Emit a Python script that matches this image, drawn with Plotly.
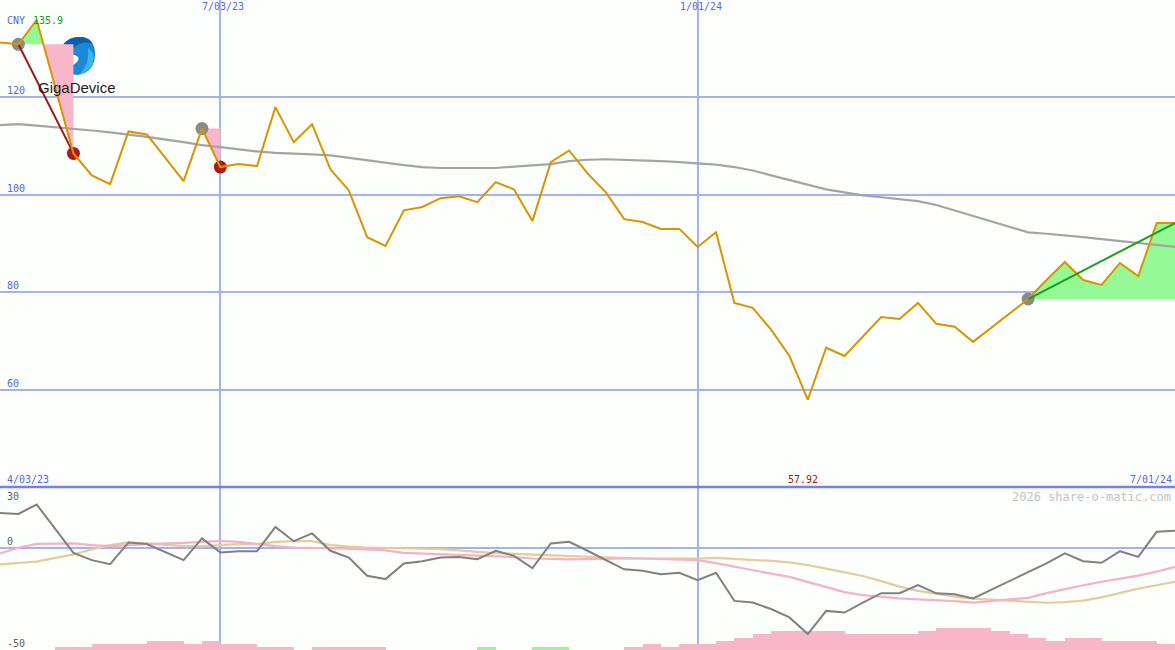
import plotly.graph_objects as go
import pandas as pd

# ---------------- data ----------------
DATES = [
    "2023-04-10", "2023-04-17", "2023-04-24", "2023-05-08", "2023-05-15", "2023-05-22",
    "2023-05-29", "2023-06-05", "2023-06-19", "2023-06-26", "2023-07-03", "2023-07-10",
    "2023-07-17", "2023-07-24", "2023-07-31", "2023-08-07", "2023-08-14", "2023-08-21",
    "2023-08-28", "2023-09-04", "2023-09-11", "2023-09-18", "2023-09-25", "2023-10-02",
    "2023-10-09", "2023-10-16", "2023-10-23", "2023-10-30", "2023-11-06", "2023-11-13",
    "2023-11-20", "2023-11-27", "2023-12-04", "2023-12-11", "2023-12-18", "2023-12-25",
    "2024-01-01", "2024-01-08", "2024-01-15", "2024-01-22", "2024-01-29", "2024-02-05",
    "2024-02-12", "2024-02-19", "2024-02-26", "2024-03-04", "2024-03-11", "2024-03-18",
    "2024-03-25", "2024-04-01", "2024-04-08", "2024-04-15", "2024-05-06", "2024-05-13",
    "2024-05-20", "2024-05-27", "2024-06-03", "2024-06-10", "2024-06-17", "2024-06-24",
    "2024-07-01",
]
PRICE = [
    131.3, 130.9, 135.9, 108.5, 104.0, 102.2, 113.0, 112.4, 102.8, 113.6, 105.7, 106.3,
    105.9, 118.0, 110.8, 114.5, 105.2, 100.9, 91.3, 89.5, 96.8, 97.5, 99.3, 99.7,
    98.5, 102.6, 101.1, 94.6, 106.7, 109.1, 104.4, 100.5, 95.0, 94.4, 93.0, 93.0,
    89.3, 92.3, 77.8, 76.8, 72.3, 66.9, 57.92, 68.6, 66.9, 71.0, 74.9, 74.5,
    77.8, 73.5, 72.9, 69.8, 78.6, 82.5, 86.2, 82.5, 81.5, 86.0, 83.3, 94.2,
    94.2,
]
MA_LONG = [
    114.3, 114.5, 114.2, 113.6, 113.2, 112.8, 112.4, 111.9, 110.8, 110.2, 109.8, 109.3,
    108.9, 108.6, 108.5, 108.3, 108.1, 107.6, 107.1, 106.5, 106.1, 105.7, 105.5, 105.5,
    105.5, 105.5, 105.8, 106.1, 106.3, 106.9, 107.2, 107.3, 107.2, 107.1, 106.9, 106.7,
    106.5, 106.2, 105.7, 105.0, 104.0, 103.0, 102.0, 101.1, 100.5, 99.9, 99.5, 99.1,
    98.7, 97.9, 96.8, 95.6, 92.3, 92.0, 91.7, 91.3, 90.9, 90.5, 90.1, 89.7,
    89.3,
]
OSC_GRAY = [
    17.3, 16.8, 21.4, -2.3, -5.9, -7.9, 2.8, 2.0, -5.9, 4.8, -2.1, -1.5,
    -1.5, 10.4, 3.4, 7.2, -1.3, -4.6, -13.6, -15.2, -7.5, -6.4, -4.6, -4.3,
    -5.4, -1.3, -3.8, -9.8, 2.3, 3.1, -1.3, -5.9, -10.4, -11.1, -12.8, -12.1,
    -15.7, -12.1, -25.9, -26.7, -29.9, -34.0, -42.2, -30.8, -31.6, -26.7, -22.1, -22.1,
    -18.1, -22.2, -22.6, -24.7, -11.9, -7.5, -2.6, -6.4, -7.2, -1.5, -4.3, 8.0,
    8.5,
]
OSC_PINK = [
    -2.6, 0.2, 2.1, 2.3, 1.5, 1.0, 1.5, 2.0, 2.6, 3.1, 3.6, 3.1,
    2.0, 1.0, 0.3, 0.2, 0.1, -0.2, -0.6, -1.1, -2.3, -2.6, -2.9, -3.3,
    -3.6, -3.9, -4.4, -5.1, -5.4, -5.5, -5.4, -5.1, -5.1, -5.1, -5.3, -5.6,
    -5.9, -7.4, -9.2, -10.8, -12.5, -14.1, -16.7, -19.1, -21.6, -23.1, -24.0, -24.7,
    -25.2, -25.5, -26.0, -26.7, -24.4, -22.1, -20.1, -18.2, -16.5, -15.1, -13.5, -11.5,
    -9.2,
]
OSC_TAN = [
    -8.0, -7.4, -6.6, -3.1, -0.6, 1.5, 2.8, 2.3, 1.0, 1.0, 1.5, 2.0,
    2.0, 3.1, 3.4, 3.4, 1.5, 0.7, 0.3, 0.2, 0.1, -0.3, -0.5, -1.2,
    -1.8, -2.5, -2.8, -3.2, -3.4, -3.9, -4.4, -4.7, -4.9, -5.1, -5.2, -5.3,
    -5.2, -4.8, -5.2, -5.6, -6.3, -7.0, -8.3, -10.1, -12.0, -13.7, -16.2, -18.9,
    -21.0, -22.4, -23.8, -24.8, -26.3, -26.8, -26.5, -25.8, -24.2, -22.1, -19.9, -18.2,
    -16.5,
]
BAR_PINK_DATES = [
    "2023-05-01", "2023-05-08", "2023-05-15", "2023-05-22", "2023-05-29", "2023-06-05",
    "2023-06-12", "2023-06-19", "2023-06-26", "2023-07-03", "2023-07-10", "2023-07-17",
    "2023-07-24", "2023-08-07", "2023-08-14", "2023-08-21", "2023-08-28", "2023-12-04",
    "2023-12-11", "2023-12-18", "2023-12-25", "2024-01-01", "2024-01-08", "2024-01-15",
    "2024-01-22", "2024-01-29", "2024-02-05", "2024-02-12", "2024-02-19", "2024-02-26",
    "2024-03-04", "2024-03-11", "2024-03-18", "2024-03-25", "2024-04-01", "2024-04-08",
    "2024-04-15", "2024-04-22", "2024-04-29", "2024-05-06", "2024-05-13", "2024-05-20",
    "2024-05-27", "2024-06-03", "2024-06-10", "2024-06-17", "2024-06-24",
]
BAR_PINK = [
    1.5, 1.5, 3.0, 3.0, 3.0, 4.6, 4.6, 3.0, 4.6, 3.0, 3.0, 1.5,
    1.5, 1.5, 1.5, 1.5, 1.5, 1.5, 3.0, 1.5, 3.0, 3.0, 4.6, 6.0,
    7.7, 9.3, 9.3, 9.3, 9.3, 7.7, 7.7, 7.7, 7.7, 9.3, 10.9, 10.9,
    10.9, 9.3, 7.7, 6.0, 4.6, 6.0, 6.0, 4.6, 4.6, 4.6, 3.0,
]
BAR_GREEN_DATES = ["2023-10-09", "2023-10-30", "2023-11-06"]
BAR_GREEN = [1.5, 1.5, 1.5]

MAIN_TICKS = [120, 100, 80, 60]
LOWER_TICKS = [30, 0, -50]
X_TICKS = ["2023-07-03", "2024-01-01"]
X_TICK_LABELS = ["7/03/23", "1/01/24"]
X_RANGE = ["2023-04-10", "2024-07-01"]
EVENTS = [("2023-04-17", "2023-05-08"), ("2023-06-26", "2023-07-03"), ("2024-05-06", "2024-07-01")]

# ---------------- style ----------------
W, H = 1175, 650
SPLIT = 1 - 487 / 650
BG = "#fcfffc"
GRID = "#a4b2f2"
ORANGE = "#d99400"
PINKF = "#f9b6c9"
GREENF = "#94f894"
MONO = "DejaVu Sans Mono"


def px(x):
    return x / W


def py(y):
    return 1 - y / H


fig = go.Figure()

# event fills
def event_polys(d0, d1):
    i0, i1 = DATES.index(d0), DATES.index(d1)
    lvl = PRICE[i0]
    ts = [pd.Timestamp(d) for d in DATES[i0:i1 + 1]]
    ps = PRICE[i0:i1 + 1]
    pts = [(ts[0], ps[0])]
    for j in range(1, len(ts)):
        t1, p1, t2, p2 = ts[j - 1], ps[j - 1], ts[j], ps[j]
        if (p1 - lvl) * (p2 - lvl) < 0:
            f = (lvl - p1) / (p2 - p1)
            pts.append((t1 + (t2 - t1) * f, lvl))
        pts.append((t2, p2))
    xs = [t for t, _ in pts] + [ts[-1], ts[0]]
    up = [max(p, lvl) for _, p in pts] + [lvl, lvl]
    dn = [min(p, lvl) for _, p in pts] + [lvl, lvl]
    return xs, up, dn, i0, i1


for d0, d1 in EVENTS:
    xs, up, dn, i0, i1 = event_polys(d0, d1)
    fig.add_trace(go.Scatter(x=xs, y=up, fill="toself", fillcolor=GREENF, mode="none",
                             hoverinfo="skip"))
    fig.add_trace(go.Scatter(x=xs, y=dn, fill="toself", fillcolor=PINKF, mode="none",
                             hoverinfo="skip"))

# long moving average
fig.add_trace(go.Scatter(x=DATES, y=MA_LONG, mode="lines",
                         line=dict(color="#a4a4a4", width=2.2)))

# event markers & lines (below price)
for d0, d1 in EVENTS:
    i0, i1 = DATES.index(d0), DATES.index(d1)
    fig.add_trace(go.Scatter(x=[DATES[i0]], y=[PRICE[i0]], mode="markers",
                             marker=dict(color="#8a8a8a", size=13)))
    if PRICE[i1] < PRICE[i0]:
        if i1 - i0 > 1:
            fig.add_trace(go.Scatter(x=[DATES[i0], DATES[i1]], y=[PRICE[i0], PRICE[i1]],
                                     mode="lines", line=dict(color="#a01818", width=2)))
        fig.add_trace(go.Scatter(x=[DATES[i1]], y=[PRICE[i1]], mode="markers",
                                 marker=dict(color="#a81c1c", size=13)))

# price
fig.add_trace(go.Scatter(x=DATES, y=PRICE, mode="lines",
                         line=dict(color=ORANGE, width=2)))

for d0, d1 in EVENTS:
    i0, i1 = DATES.index(d0), DATES.index(d1)
    if PRICE[i1] >= PRICE[i0]:
        fig.add_trace(go.Scatter(x=[DATES[i0], DATES[i1]], y=[PRICE[i0], PRICE[i1]],
                                 mode="lines", line=dict(color="#1e9e1e", width=2)))

# lower panel
WEEK_MS = 7 * 86400000
fig.add_trace(go.Bar(x=BAR_PINK_DATES, y=BAR_PINK, base=-50, offset=0, width=WEEK_MS,
                     marker=dict(color=PINKF, line=dict(width=0)), yaxis="y2"))
fig.add_trace(go.Bar(x=BAR_GREEN_DATES, y=BAR_GREEN, base=-50, offset=0, width=WEEK_MS,
                     marker=dict(color=GREENF, line=dict(width=0)), yaxis="y2"))
fig.add_trace(go.Scatter(x=DATES, y=OSC_TAN, mode="lines", yaxis="y2",
                         line=dict(color="#e4cc9c", width=2.2)))
fig.add_trace(go.Scatter(x=DATES, y=OSC_PINK, mode="lines", yaxis="y2",
                         line=dict(color="#f8b0c6", width=2.2)))
fig.add_trace(go.Scatter(x=DATES, y=OSC_GRAY, mode="lines", yaxis="y2",
                         line=dict(color="#808080", width=2)))

# ---------------- annotations ----------------
ann = []
for v in MAIN_TICKS:
    ann.append(dict(x=px(5), xref="paper", y=v, yref="y", text=str(v), showarrow=False,
                    xanchor="left", yanchor="bottom", yshift=-1,
                    font=dict(family=MONO, size=10, color="#5566ee")))
for v in LOWER_TICKS:
    if v == LOWER_TICKS[0]:
        ann.append(dict(x=px(5), xref="paper", y=v, yref="y2", text=str(v), showarrow=False,
                        xanchor="left", yanchor="top", yshift=-2,
                        font=dict(family=MONO, size=10, color="#606060")))
    else:
        ann.append(dict(x=px(5), xref="paper", y=v, yref="y2", text=str(v), showarrow=False,
                        xanchor="left", yanchor="bottom", yshift=-1,
                        font=dict(family=MONO, size=10, color="#606060")))
for d, lab in zip(X_TICKS, X_TICK_LABELS):
    ann.append(dict(x=d, xref="x", y=1, yref="paper", text=lab, showarrow=False,
                    xanchor="center", yanchor="top", xshift=3, yshift=1,
                    font=dict(family=MONO, size=10, color="#5566ee")))
ann.append(dict(x=X_RANGE[0], xref="x", y=SPLIT, yref="paper", text="4/03/23", showarrow=False,
                xanchor="left", yanchor="bottom", xshift=5, yshift=0,
                font=dict(family=MONO, size=10, color="#5566ee")))
ann.append(dict(x=X_RANGE[1], xref="x", y=SPLIT, yref="paper", text="7/01/24", showarrow=False,
                xanchor="right", yanchor="bottom", xshift=-1, yshift=0,
                font=dict(family=MONO, size=10, color="#5566ee")))
imin = PRICE.index(min(PRICE))
ann.append(dict(x=DATES[imin], xref="x", y=SPLIT, yref="paper", text=f"{PRICE[imin]:.2f}",
                showarrow=False, xanchor="center", yanchor="bottom", xshift=-5,
                font=dict(family=MONO, size=10, color="#a01818")))
ann.append(dict(x=px(5), xref="paper", y=1, yref="paper", text="CNY", showarrow=False,
                xanchor="left", yanchor="top", yshift=-13,
                font=dict(family=MONO, size=10, color="#5566ee")))
ann.append(dict(x=px(31), xref="paper", y=1, yref="paper", text=f"{max(PRICE):.1f}",
                showarrow=False, xanchor="left", yanchor="top", yshift=-13,
                font=dict(family=MONO, size=10, color="#1a9a1a")))
ann.append(dict(x=px(1173), xref="paper", y=SPLIT, yref="paper", text="2026 share-o-matic.com",
                showarrow=False, xanchor="right", yanchor="top", yshift=-1,
                font=dict(family=MONO, size=12, color="#c4c4c4")))
ann.append(dict(x=px(36), xref="paper", y=py(87), yref="paper", text="GigaDevice",
                showarrow=False, xanchor="left", yanchor="middle",
                font=dict(family="Liberation Sans", size=15, color="#1c1c1c")))

# ---------------- shapes ----------------
def path_px(cmds):
    out = []
    for c in cmds:
        if isinstance(c, str):
            out.append(c)
        else:
            out.append(f"{px(c[0]):.5f},{py(c[1]):.5f}")
    return " ".join(out)


shapes = [
    dict(type="rect", xref="paper", yref="paper", x0=px(35), x1=px(116), y0=py(99), y1=py(32),
         fillcolor="#ffffff", line=dict(width=0), layer="between"),
    # outer blue drop
    dict(type="path", xref="paper", yref="paper", layer="between",
         path=path_px(["M", (60, 50), "Q", (66, 36), (82, 37), "Q", (96, 40), (95, 56),
                       "Q", (94, 72), (78, 75), "Q", (66, 75), (61, 66),
                       "Q", (70, 68), (76, 63), "Q", (82, 57), (74, 55),
                       "Q", (66, 55), (60, 50), "Z"]),
         fillcolor="#1c88d8", line=dict(width=0)),
    # darker top cap
    dict(type="path", xref="paper", yref="paper", layer="between",
         path=path_px(["M", (60, 50), "Q", (66, 36), (82, 37), "Q", (90, 38), (93, 44),
                       "Q", (84, 40), (76, 46), "Q", (70, 52), (60, 50), "Z"]),
         fillcolor="#0b5fad", line=dict(width=0)),
    # light cyan right edge
    dict(type="path", xref="paper", yref="paper", layer="between",
         path=path_px(["M", (88, 48), "Q", (96, 52), (93, 64), "Q", (88, 72), (80, 74),
                       "Q", (90, 64), (88, 48), "Z"]),
         fillcolor="#3cb4ee", line=dict(width=0)),
    dict(type="line", xref="paper", yref="paper", x0=0, x1=1, y0=SPLIT, y1=SPLIT,
         line=dict(color="#7282ec", width=2.5), layer="above"),
]

fig.update_layout(
    width=W, height=H, margin=dict(l=0, r=0, t=0, b=0),
    paper_bgcolor=BG, plot_bgcolor=BG, showlegend=False, bargap=0,
    annotations=ann, shapes=shapes,
    xaxis=dict(type="date", range=X_RANGE, tickvals=X_TICKS, showticklabels=False,
               showgrid=True, gridcolor=GRID, gridwidth=2, zeroline=False, ticks="",
               showline=False, anchor="y2", fixedrange=True),
    yaxis=dict(domain=[SPLIT, 1], range=[40, 140], tickvals=MAIN_TICKS, showticklabels=False,
               showgrid=True, gridcolor=GRID, gridwidth=2, zeroline=False, ticks=""),
    yaxis2=dict(domain=[0, SPLIT], range=[-50, 30], tickvals=[0], showticklabels=False,
                showgrid=True, gridcolor=GRID, gridwidth=2, zeroline=False, ticks=""),
)

fig.write_html("out.html", config={"displayModeBar": False},
               post_script=["document.body.style.margin='0px';"])
